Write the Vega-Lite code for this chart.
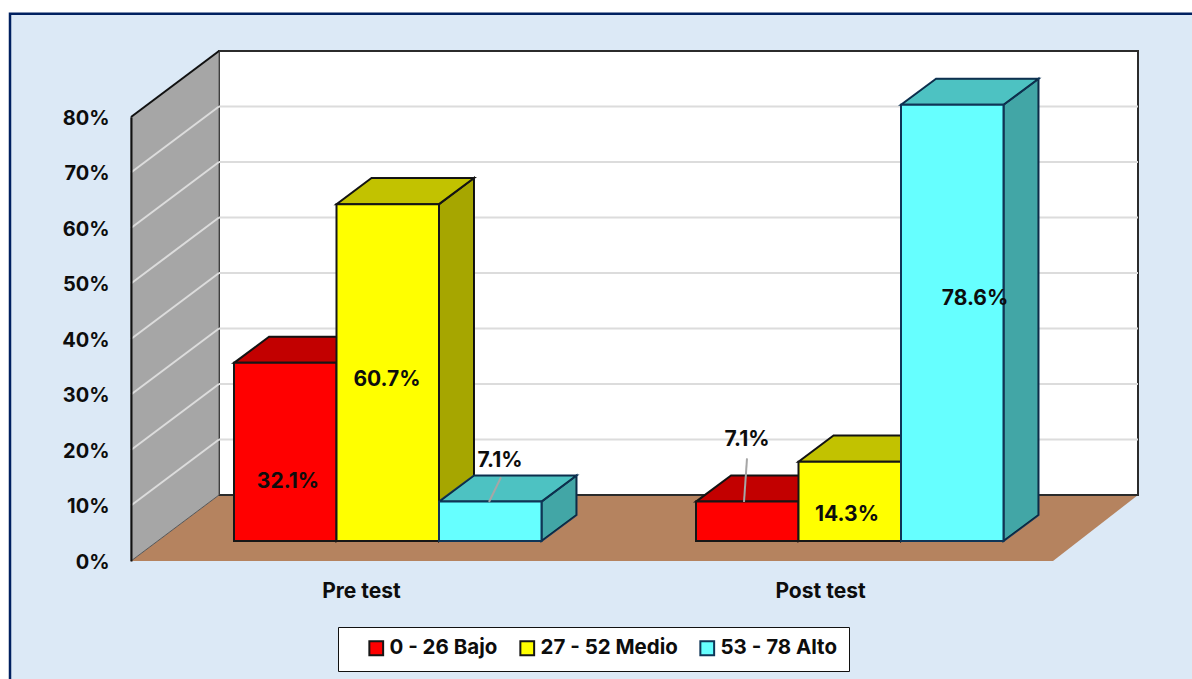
{
"$schema":"https://vega.github.io/schema/vega-lite/v6.json",
"width":919,"height":444,
"autosize":{"type":"none"},
"padding":{"left":131,"top":117,"right":142,"bottom":118},
"background":"#ffffff",
"config":{"view":{"stroke":null},"font":"Inter",
"axis":{"labelFont":"Inter","labelFontWeight":"bold","labelFontSize":20,"labelColor":"#0d0d0d"},
"legend":{"labelFont":"Inter","labelFontWeight":"bold","labelFontSize":20.5,"labelColor":"#0d0d0d"}},
"data":{"values":[
{"grupo":"Pre test","nivel":"0 - 26 Bajo","valor":32.1},
{"grupo":"Pre test","nivel":"27 - 52 Medio","valor":60.7},
{"grupo":"Pre test","nivel":"53 - 78 Alto","valor":7.1},
{"grupo":"Post test","nivel":"0 - 26 Bajo","valor":7.1},
{"grupo":"Post test","nivel":"27 - 52 Medio","valor":14.3},
{"grupo":"Post test","nivel":"53 - 78 Alto","valor":78.6}
]},
"transform":[
{"calculate":"datum.grupo==='Pre test'?0:1","as":"g"},
{"calculate":"indexof(['0 - 26 Bajo','27 - 52 Medio','53 - 78 Alto'],datum.nivel)","as":"i"},
{"calculate":"103+462*datum.g+102.5*datum.i","as":"xL"},
{"calculate":"datum.xL+102.5","as":"xR"},
{"calculate":"datum.valor+3.6","as":"top"},
{"calculate":"datum.grupo+datum.nivel","as":"key"},
{"calculate":"[0,1]","as":"p"},
{"flatten":["p"]}
],
"encoding":{
"x":{"field":"x","type":"quantitative","scale":{"domain":[0,919],"nice":false,"zero":false},
"axis":{"title":null,"values":[230,689],"labelExpr":"datum.value<500?'Pre  test':'Post test'","domain":false,"ticks":false,"grid":false,"labelPadding":19,"labelFontSize":21,"zindex":1}},
"y":{"field":"y","type":"quantitative","scale":{"domain":[0,80],"nice":false,"zero":false},
"axis":{"title":null,"values":[0,10,20,30,40,50,60,70,80],"labelExpr":"datum.value+'%'","domain":true,"domainColor":"#111111","domainWidth":2,"ticks":false,"grid":false,"labelPadding":22,"labelOffset":1,"zindex":1}}
},
"layer":[
{"data":{"values":[{"x":-121,"x2":1100,"y":98.6,"y2":-30}]},"mark":{"type":"rect","fill":"#dce9f6","stroke":"#002060","strokeWidth":2.5},
 "encoding":{"x2":{"field":"x2"},"y2":{"field":"y2"}}},
{"data":{"values":[{"x":0,"y":0,"x2":922},{"x":88,"y":11.89,"x2":1007}]},"mark":{"type":"area","orient":"horizontal","fill":"#b5835f"},
 "encoding":{"x2":{"field":"x2"}}},
{"data":{"values":[{"x":88,"x2":1007,"y":11.89,"y2":91.89}]},"mark":{"type":"rect","fill":"#ffffff","stroke":"#2b2b2b","strokeWidth":2},
 "encoding":{"x2":{"field":"x2"},"y2":{"field":"y2"}}},
{"data":{"values":[{"x":0,"y":0,"y2":80},{"x":88,"y":11.89,"y2":91.89}]},"mark":{"type":"area","orient":"vertical","fill":"#a6a6a6","stroke":"#555555","strokeWidth":1},
 "encoding":{"y2":{"field":"y2"}}},
{"data":{"values":[
{"x":88,"x2":1007,"y":21.89,"y2":21.89},{"x":88,"x2":1007,"y":31.89,"y2":31.89},{"x":88,"x2":1007,"y":41.89,"y2":41.89},{"x":88,"x2":1007,"y":51.89,"y2":51.89},{"x":88,"x2":1007,"y":61.89,"y2":61.89},{"x":88,"x2":1007,"y":71.89,"y2":71.89},{"x":88,"x2":1007,"y":81.89,"y2":81.89},
{"x":0,"x2":88,"y":10,"y2":21.89},{"x":0,"x2":88,"y":20,"y2":31.89},{"x":0,"x2":88,"y":30,"y2":41.89},{"x":0,"x2":88,"y":40,"y2":51.89},{"x":0,"x2":88,"y":50,"y2":61.89},{"x":0,"x2":88,"y":60,"y2":71.89},{"x":0,"x2":88,"y":70,"y2":81.89}
]},"mark":{"type":"rule","stroke":"#dcdcdc","strokeWidth":2},
 "encoding":{"x2":{"field":"x2"},"y2":{"field":"y2"}}},
{"data":{"values":[{"x":0,"x2":88,"y":80,"y2":91.89}]},"mark":{"type":"rule","stroke":"#111111","strokeWidth":2},
 "encoding":{"x2":{"field":"x2"},"y2":{"field":"y2"}}},
{"transform":[{"calculate":"datum.xR+35*datum.p","as":"x"},{"calculate":"datum.top+4.7*datum.p","as":"y"},{"calculate":"3.6+4.7*datum.p","as":"y2"}],
 "mark":{"type":"area","orient":"vertical","strokeWidth":2,"fillOpacity":1},
 "encoding":{"y2":{"field":"y2"},"detail":{"field":"key"},
 "fill":{"field":"nivel","type":"nominal","title":null,"scale":{"domain":["0 - 26 Bajo","27 - 52 Medio","53 - 78 Alto"],"range":["#ff0000","#ffff00","#66ffff"]}},
 "stroke":{"field":"nivel","type":"nominal","title":null,"scale":{"domain":["0 - 26 Bajo","27 - 52 Medio","53 - 78 Alto"],"range":["#161616","#161616","#0f3557"]}}}},
{"transform":[{"calculate":"datum.xR+35*datum.p","as":"x"},{"calculate":"datum.top+4.7*datum.p","as":"y"},{"calculate":"3.6+4.7*datum.p","as":"y2"}],
 "mark":{"type":"area","orient":"vertical","fill":"#000000","fillOpacity":0.35},
 "encoding":{"y2":{"field":"y2"},"detail":{"field":"key"}}},
{"transform":[{"calculate":"datum.xL+35*datum.p","as":"x"},{"calculate":"datum.xR+35*datum.p","as":"x2"},{"calculate":"datum.top+4.7*datum.p","as":"y"}],
 "mark":{"type":"area","orient":"horizontal","strokeWidth":2},
 "encoding":{"x2":{"field":"x2"},"detail":{"field":"key"},
 "fill":{"field":"nivel","type":"nominal","title":null},
 "stroke":{"field":"nivel","type":"nominal","title":null}}},
{"transform":[{"calculate":"datum.xL+35*datum.p","as":"x"},{"calculate":"datum.xR+35*datum.p","as":"x2"},{"calculate":"datum.top+4.7*datum.p","as":"y"}],
 "mark":{"type":"area","orient":"horizontal","fill":"#000000","fillOpacity":0.24},
 "encoding":{"x2":{"field":"x2"},"detail":{"field":"key"}}},
{"transform":[{"filter":"datum.p===0"},{"calculate":"datum.xL","as":"x"},{"calculate":"datum.xR","as":"x2"},{"calculate":"datum.top","as":"y"},{"calculate":"3.6","as":"y2"}],
 "mark":{"type":"rect","strokeWidth":2},
 "encoding":{"x2":{"field":"x2"},"y2":{"field":"y2"},
 "fill":{"field":"nivel","type":"nominal","title":null,"legend":{"orient":"none","legendX":207,"legendY":510,"direction":"horizontal","columns":3,"gridAlign":"none","title":null,"fillColor":"#ffffff","strokeColor":"#111111","padding":11,"symbolOffset":17,"symbolType":"square","symbolSize":190,"symbolStrokeWidth":2,"columnPadding":2,"labelOffset":3}},
 "stroke":{"field":"nivel","type":"nominal","title":null,"legend":{"orient":"none","legendX":207,"legendY":510,"direction":"horizontal","columns":3,"gridAlign":"none","title":null,"fillColor":"#ffffff","strokeColor":"#111111","padding":11,"symbolOffset":17,"symbolType":"square","symbolSize":190,"symbolStrokeWidth":2,"columnPadding":2,"labelOffset":3}}}},
{"transform":[{"filter":"datum.p===0 && datum.valor===7.1"},
 {"calculate":"datum.g===0?358:613","as":"x"},{"calculate":"datum.g===0?370:616","as":"x2"},{"calculate":"10.63","as":"y"},{"calculate":"datum.g===0?15.1:18.5","as":"y2"}],
 "mark":{"type":"rule","stroke":"#a6a6a6","strokeWidth":2},
 "encoding":{"x2":{"field":"x2"},"y2":{"field":"y2"}}},
{"transform":[{"filter":"datum.p===0"},
 {"calculate":"[157,256,369,616,716,844][datum.g*3+datum.i]","as":"x"},
 {"calculate":"[14.4,32.8,18.2,22,8.47,47.4][datum.g*3+datum.i]","as":"y"},
 {"calculate":"format(datum.valor,'.1f')+'%'","as":"etiqueta"}],
 "mark":{"type":"text","font":"Inter","fontWeight":"bold","fontSize":21,"fill":"#0d0d0d","align":"center","baseline":"middle","dy":1},
 "encoding":{"text":{"field":"etiqueta","type":"nominal"}}}
]
}
